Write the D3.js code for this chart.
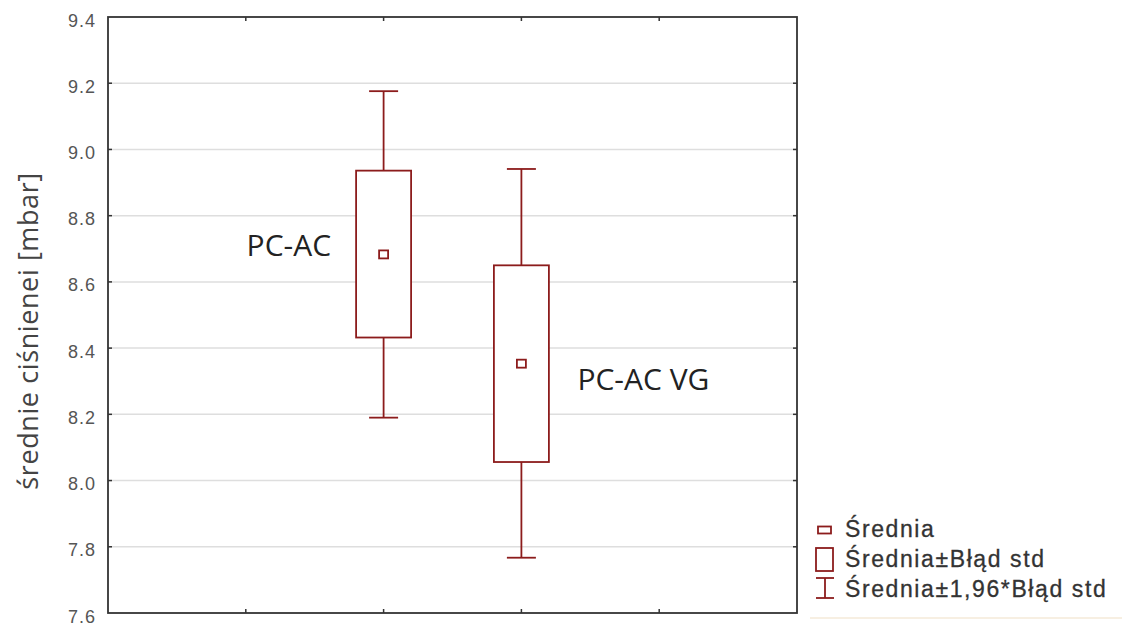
<!DOCTYPE html>
<html>
<head>
<meta charset="utf-8">
<script src="https://cdn.jsdelivr.net/npm/d3@7"></script>
<style>
  body { margin: 0; background: #fff; }
</style>
</head>
<body>
<div id="canvas"></div>
<script>
const width = 1130;
const height = 626;

// data
const categories = ["PC-AC", "PC-AC VG"];
const catPos = [2, 3];
const means = [8.683, 8.353];
const seLow = [8.432, 8.056];
const seHigh = [8.936, 8.650];
const ciLow = [8.190, 7.767];
const ciHigh = [9.176, 8.941];
const yTicks = [7.6, 7.8, 8.0, 8.2, 8.4, 8.6, 8.8, 9.0, 9.2, 9.4];
const xTicks = [1, 2, 3, 4];
const legendItems = ["Średnia", "Średnia±Błąd std", "Średnia±1,96*Błąd std"];

const red = "#8c1c1c";

const svg = d3.select("#canvas")
    .append("svg")
    .attr("width", width)
    .attr("height", height);

svg.append("rect").attr("width", width).attr("height", height).attr("fill", "#fff");

const plotL = 108, plotR = 797, plotT = 17, plotB = 613;

const y = d3.scaleLinear().domain([7.6, 9.4]).range([plotB, plotT]);
const x = d3.scaleLinear().domain([0, 5]).range([plotL, plotR]);

// gridlines
svg.append("g")
    .selectAll("line")
    .data(yTicks.slice(1, -1))
    .join("line")
    .attr("x1", plotL).attr("x2", plotR)
    .attr("y1", d => y(d)).attr("y2", d => y(d))
    .attr("stroke", "#dedede")
    .attr("stroke-width", 1.5);

// tick labels on the left
const yAxis = d3.axisLeft(y).tickValues(yTicks).tickSize(0).tickPadding(12)
    .tickFormat(d3.format(".1f"));
const gy = svg.append("g").attr("transform", `translate(${plotL},0)`).call(yAxis);
gy.select(".domain").remove();
gy.selectAll("text")
    .attr("font-family", "Liberation Sans, Arial, sans-serif")
    .attr("font-size", 18)
    .attr("letter-spacing", 1)
    .attr("fill", "#555")
    .attr("dy", "0.5em");

// inward ticks
const tk = svg.append("g").attr("stroke", "#333").attr("stroke-width", 1.5);
yTicks.slice(1, -1).forEach(t => {
    tk.append("line").attr("x1", plotL).attr("x2", plotL + 4).attr("y1", y(t)).attr("y2", y(t));
    tk.append("line").attr("x1", plotR).attr("x2", plotR - 4).attr("y1", y(t)).attr("y2", y(t));
});
xTicks.forEach(t => {
    tk.append("line").attr("x1", x(t)).attr("x2", x(t)).attr("y1", plotB).attr("y2", plotB - 4);
    tk.append("line").attr("x1", x(t)).attr("x2", x(t)).attr("y1", plotT).attr("y2", plotT + 4);
});

// frame
svg.append("rect")
    .attr("x", plotL).attr("y", plotT)
    .attr("width", plotR - plotL).attr("height", plotB - plotT)
    .attr("fill", "none")
    .attr("stroke", "#333")
    .attr("stroke-width", 1.8);

// y title
svg.append("text")
    .attr("transform", "translate(38,331) rotate(-90)")
    .attr("text-anchor", "middle")
    .attr("font-family", "Open Sans, sans-serif")
    .attr("font-size", 27)
    .attr("letter-spacing", 0.6)
    .attr("fill", "#444")
    .text("średnie ciśnienei [mbar]");

// boxes
const boxW = 55, capW = 29;
const g = svg.append("g").attr("stroke", red).attr("fill", "none");

categories.forEach((c, i) => {
    const cx = x(catPos[i]);
    // whiskers
    g.append("line").attr("x1", cx).attr("x2", cx).attr("y1", y(ciHigh[i])).attr("y2", y(seHigh[i])).attr("stroke-width", 1.8);
    g.append("line").attr("x1", cx).attr("x2", cx).attr("y1", y(seLow[i])).attr("y2", y(ciLow[i])).attr("stroke-width", 1.8);
    g.append("line").attr("x1", cx - capW / 2).attr("x2", cx + capW / 2).attr("y1", y(ciHigh[i])).attr("y2", y(ciHigh[i])).attr("stroke-width", 1.8);
    g.append("line").attr("x1", cx - capW / 2).attr("x2", cx + capW / 2).attr("y1", y(ciLow[i])).attr("y2", y(ciLow[i])).attr("stroke-width", 1.8);
    // box
    g.append("rect")
        .attr("x", cx - boxW / 2).attr("y", y(seHigh[i]))
        .attr("width", boxW).attr("height", y(seLow[i]) - y(seHigh[i]))
        .attr("fill", "#fff")
        .attr("stroke-width", 1.8);
    // mean
    g.append("rect")
        .attr("x", cx - 4.5).attr("y", y(means[i]) - 4)
        .attr("width", 9).attr("height", 8)
        .attr("stroke-width", 1.8);
});

// category labels
svg.append("text")
    .attr("x", x(catPos[0]) - 137).attr("y", 256)
    .attr("font-family", "Open Sans, sans-serif")
    .attr("font-size", 30)
    .attr("fill", "#222")
    .text(categories[0]);
svg.append("text")
    .attr("x", x(catPos[1]) + 56).attr("y", 390)
    .attr("font-family", "Open Sans, sans-serif")
    .attr("font-size", 30)
    .attr("fill", "#222")
    .text(categories[1]);

// legend
const lg = svg.append("g");
const rowY = [537, 567, 597];
lg.selectAll("text")
    .data(legendItems)
    .join("text")
    .attr("x", 845)
    .attr("y", (d, i) => rowY[i])
    .attr("font-family", "Liberation Sans, Arial, sans-serif")
    .attr("font-size", 23)
    .attr("letter-spacing", 1.6)
    .attr("fill", "#333")
    .attr("stroke", "#333")
    .attr("stroke-width", 0.3)
    .text(d => d);

lg.append("rect").attr("x", 818).attr("y", 526.5).attr("width", 13).attr("height", 7)
    .attr("fill", "none").attr("stroke", red).attr("stroke-width", 1.8);
lg.append("rect").attr("x", 816).attr("y", 548).attr("width", 17).attr("height", 23)
    .attr("fill", "none").attr("stroke", red).attr("stroke-width", 1.8);
lg.append("line").attr("x1", 825).attr("x2", 825).attr("y1", 578).attr("y2", 598)
    .attr("stroke", red).attr("stroke-width", 1.8);
lg.append("line").attr("x1", 816).attr("x2", 834).attr("y1", 578).attr("y2", 578)
    .attr("stroke", red).attr("stroke-width", 1.8);
lg.append("line").attr("x1", 816).attr("x2", 834).attr("y1", 598).attr("y2", 598)
    .attr("stroke", red).attr("stroke-width", 1.8);

lg.append("line").attr("x1", 810).attr("x2", 1122).attr("y1", 618).attr("y2", 618)
    .attr("stroke", "#f7efe2").attr("stroke-width", 2);
</script>
</body>
</html>
